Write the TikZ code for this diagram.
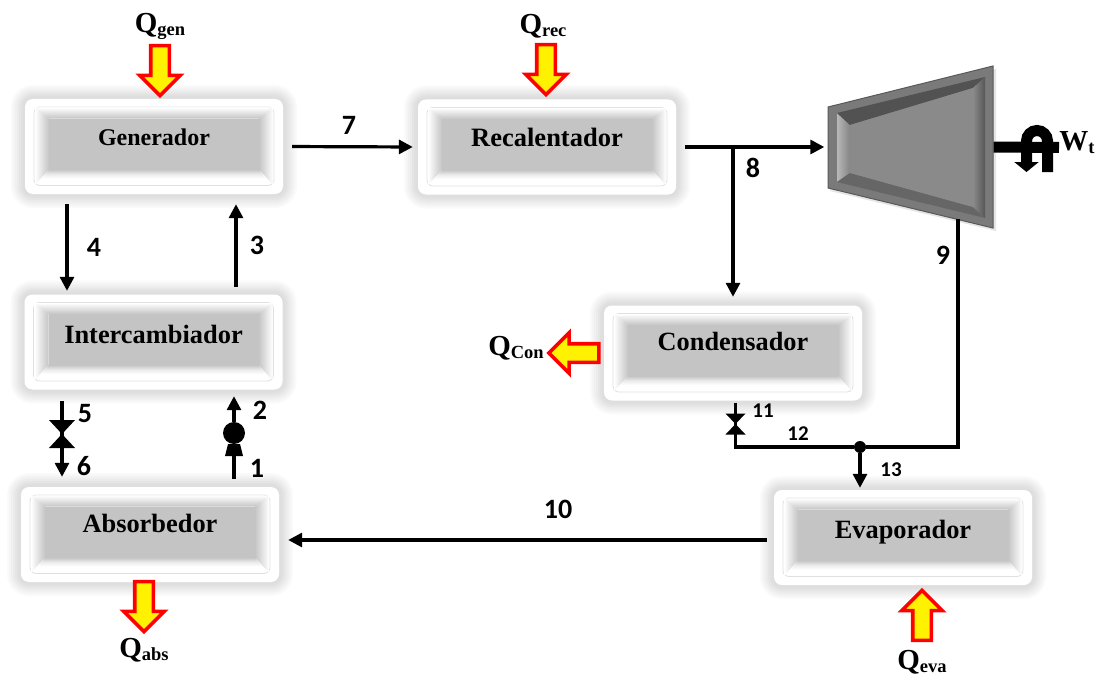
\documentclass[tikz,border=0pt]{standalone}
\usepackage{fontspec}
\setmainfont{Liberation Serif}
\newfontfamily\numfont{Carlito}
\usetikzlibrary{arrows.meta,shapes.arrows}

\tikzset{
flow/.style={line width=3.2pt,-{Stealth[inset=0pt,length=14pt,width=14pt]}},
pipe/.style={line width=3.2pt},
heatarrow/.style={single arrow,draw=red,fill=yellow,line width=3.6pt,inner sep=7.5pt,minimum width=38pt,minimum height=50pt,single arrow head extend=11pt,single arrow tip angle=90},
joint/.style={circle,fill=black,inner sep=0pt,minimum size=12pt},
pumpdot/.style={circle,fill=black,inner sep=0pt,minimum size=22pt},
numlabel/.style={font=\numfont\bfseries\fontsize{28}{28}\selectfont,inner sep=0pt},
smalllabel/.style={font=\numfont\bfseries\fontsize{21}{21}\selectfont,inner sep=0pt},
heatlabel/.style={font=\bfseries,inner sep=0pt},
}

\newcommand{\heattext}[1]{{\fontsize{29}{29}\selectfont Q}\raisebox{-3pt}{\fontsize{18.5}{18.5}\selectfont #1}}

% name, x, y, text, font size, raise
\newcommand{\drawunit}[6]{%
\begin{scope}[shift={(#2,#3)}]
\foreach \gap/\tone in {14/2,12/4,10/6,8/8,6/10,4/12,2/13}{
\fill[black!\tone,rounded corners={(8+\gap)*1pt}] (-129-\gap,-47.5-\gap) rectangle (129+\gap,47.5+\gap);
}
\fill[white,rounded corners=8pt] (-129,-47.5) rectangle (129,47.5);
\draw[black!12,line width=0.8pt,rounded corners=6pt] (-120,-39.5) rectangle (120,39);
\shade[top color=white,bottom color=black!23] (-119,-39) -- (119,-39) -- (105,-28) -- (-105,-28) -- cycle;
\shade[left color=white,right color=black!23] (-119,-39) -- (-105,-28) -- (-105,23) -- (-119,38) -- cycle;
\shade[left color=black!23,right color=white] (119,-39) -- (105,-28) -- (105,23) -- (119,38) -- cycle;
\shade[top color=black!23,bottom color=white,middle color=black!8] (-105,23) -- (105,23) -- (112,32) -- (-112,32) -- cycle;
\fill[black!23] (-105,-28) rectangle (105,23);
\node[minimum width=258pt,minimum height=95pt,inner sep=0pt,font=\bfseries\fontsize{#5}{#5}\selectfont] (#1) at (0,0) {\raisebox{#6pt}{#4}};
\end{scope}
}

% x, y, half width, half height
\newcommand{\drawvalve}[4]{%
\fill[black] (#1-#3,#2-#4) -- (#1+#3,#2-#4) -- (#1-#3,#2+#4) -- (#1+#3,#2+#4) -- cycle;
}

\begin{document}
\begin{tikzpicture}[x=1pt,y=-1pt]
\useasboundingbox (0,0) rectangle (1096,677);

% units
\drawunit{gen}{154}{146.5}{Generador}{24}{19}
\drawunit{rec}{547}{147}{Recalentador}{26.5}{19}
\drawunit{inter}{153.5}{342}{Intercambiador}{26.4}{16}
\drawunit{cond}{733}{353}{Condensador}{26.3}{23}
\drawunit{abs}{150}{534.5}{Absorbedor}{26.4}{23}
\drawunit{evap}{903}{537.5}{Evaporador}{26.4}{17}

% turbine
\node[inner sep=0pt,minimum width=166pt,minimum height=162pt] (turb) at (910.5,147) {};
\fill[black!10] (830,110) -- (996,69) -- (996,231) -- (830,191) -- cycle;
\fill[black!52,draw=black!65,line width=1pt] (828,107) -- (993,66) -- (993,228) -- (828,188) -- cycle;
\shade[left color=black!28,right color=black!48] (837,113) -- (850,125) -- (850,173) -- (837,182) -- cycle;
\fill[black!68] (837,113) -- (985,77) -- (973,88) -- (850,125) -- cycle;
\fill[black!60] (837,182) -- (985,218) -- (973,207) -- (850,173) -- cycle;
\shade[left color=black!46,right color=black!66] (985,77) -- (985,218) -- (973,207) -- (973,88) -- cycle;
\fill[black!46] (850,125) -- (973,88) -- (973,207) -- (850,173) -- cycle;

% shaft and work arrow
\coordinate (shaftend) at (1059,147.5);
\draw[line width=11pt,-{Stealth[inset=0pt,length=10pt,width=24pt]}] (1047.5,172) -- (1047.5,141) arc[start angle=0,end angle=-180,radius=10.5] -- (1026.5,172);
\draw[line width=11pt] (turb.east) -- (shaftend);

% heat arrows
\node[heatarrow,rotate=-90] (qgenarrow) at (160,66) {};
\node[heatarrow,rotate=-90] (qrecarrow) at (546,65) {};
\node[heatarrow,rotate=180] (qconarrow) at (578.5,353) {};
\node[heatarrow,rotate=-90] (qabsarrow) at (144,602) {};
\node[heatarrow,rotate=90] (qevaarrow) at (922,620) {};

% flows on the left
\draw[flow,shorten <=9pt,shorten >=5pt] (gen.east) -- (rec.west);
\draw[flow,shorten <=10pt,shorten >=3.5pt] ([xshift=-87pt]gen.south) -- ([xshift=-86.5pt]inter.north);
\draw[flow,shorten <=7.5pt,shorten >=10pt] ([xshift=82.5pt]inter.north) -- ([xshift=82pt]gen.south);

\coordinate (valvea) at (62,434);
\draw[pipe,shorten <=11.5pt] ([xshift=-91.5pt]inter.south) -- (valvea);
\draw[flow,shorten >=10pt] (valvea) -- ([xshift=-88pt]abs.north);
\drawvalve{62}{434}{13}{14}

\node[pumpdot] (pump) at (234,433) {};
\fill[black] (228,444) -- (240,444) -- (243,456) -- (225,456) -- cycle;
\draw[pipe,shorten <=8pt] ([xshift=84pt]abs.north) -- (pump);
\draw[flow,shorten >=6.5pt] (pump) -- ([xshift=80.5pt]inter.south);

% flows on the right
\coordinate (teerec) at (733,146);
\draw[flow,shorten <=9pt,shorten >=3pt] (rec.east) -- (turb.west);
\draw[flow,shorten >=8.5pt] (teerec) -- (cond.north);

\coordinate (turbout) at (958,219);
\coordinate (valveb) at (735.5,424);
\node[joint] (teeeva) at (860,447) {};
\draw[pipe] (turbout) |- (teeeva);
\draw[pipe] (teeeva) -| (valveb);
\draw[pipe,shorten <=2pt] ([xshift=2.5pt]cond.south) -- (valveb);
\drawvalve{735.5}{424}{10}{10.5}
\draw[flow,shorten >=2pt] (teeeva) -- ([xshift=-43pt]evap.north);
\draw[flow,shorten <=7pt,shorten >=9pt] ([yshift=-2.5pt]evap.west) -- ([yshift=-5.5pt]abs.east);

% state numbers
\node[numlabel] (n1) at (257,468) {1};
\node[numlabel] (n2) at (260,410) {2};
\node[numlabel] (n3) at (257,245) {3};
\node[numlabel] (n4) at (94,247) {4};
\node[numlabel] (n5) at (85,414) {5};
\node[numlabel] (n6) at (84,466) {6};
\node[numlabel] (n7) at (349,125) {7};
\node[numlabel] (n8) at (753,168) {8};
\node[numlabel] (n9) at (943,255) {9};
\node[numlabel] (n10) at (558,509) {10};
\node[smalllabel] (n11) at (763,411) {11};
\node[smalllabel] (n12) at (798,434) {12};
\node[smalllabel] (n13) at (891,470) {13};

% heat and work labels
\node[heatlabel] (qgen) at (160,26) {\heattext{gen}};
\node[heatlabel] (qrec) at (543,26) {\heattext{rec}};
\node[heatlabel] (qcon) at (516,348) {\heattext{Con}};
\node[heatlabel] (qabs) at (144,650) {\heattext{abs}};
\node[heatlabel] (qeva) at (922,662) {\heattext{eva}};
\node[heatlabel] (wt) at (1077,143) {{\fontsize{29}{29}\selectfont W}\raisebox{-3pt}{\fontsize{18.5}{18.5}\selectfont t}};
\end{tikzpicture}
\end{document}
